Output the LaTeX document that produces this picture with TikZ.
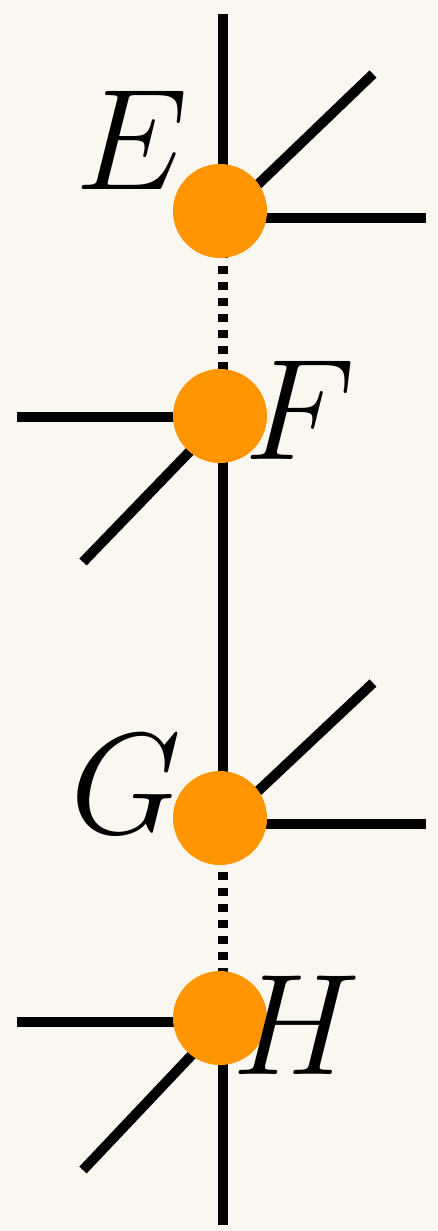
\RequirePackage{fix-cm}
\documentclass[tikz,border=0pt]{standalone}
\usetikzlibrary{positioning}
\definecolor{bgcream}{HTML}{FAF6F0}
\definecolor{dotorange}{HTML}{FF9500}
\tikzset{
  leg/.style  ={line width=5pt, draw=black},
  rung/.style ={leg, dash pattern=on 4pt off 4pt},
  vtx/.style  ={circle, fill=dotorange, minimum size=47pt, inner sep=0pt},
  tag/.style  ={inner sep=0pt, font=\fontsize{72}{72}\selectfont}
}
\begin{document}
\begin{tikzpicture}[x=0.5pt,y=-0.5pt]
  \fill[bgcream] (0,0) rectangle (438,1231);
  \useasboundingbox (0,0) rectangle (438,1231);

  % junctions on the spine
  \coordinate (e)   at (223,218);
  \coordinate (f)   at (223,417);
  \coordinate (mid) at (223,620);
  \coordinate (g)   at (223,824);
  \coordinate (h)   at (223,1022);
  % free ends
  \coordinate (etop)   at (223,14);
  \coordinate (eup)    at (373,74);
  \coordinate (eright) at (426,218);
  \coordinate (fleft)  at (17,417);
  \coordinate (fdown)  at (83,562);
  \coordinate (gup)    at (373,683);
  \coordinate (gright) at (426,824);
  \coordinate (hleft)  at (17,1022);
  \coordinate (hdown)  at (83,1170);
  \coordinate (hbot)   at (223,1225);

  \draw[leg] (etop)--(e); \draw[leg] (e)--(eup); \draw[leg] (e)--(eright);
  \draw[rung] (e)--(f);
  \draw[leg] (fleft)--(f); \draw[leg] (f)--(fdown); \draw[leg] (f)--(mid);
  \draw[leg] (mid)--(g); \draw[leg] (g)--(gup); \draw[leg] (g)--(gright);
  \draw[rung] (g)--(h);
  \draw[leg] (hleft)--(h); \draw[leg] (h)--(hdown); \draw[leg] (h)--(hbot);

  \node[vtx] (E) at (220,211) {};
  \node[vtx] (F) at (220,416) {};
  \node[vtx] (G) at (220,818) {};
  \node[vtx] (H) at (220,1018) {};

  \node[tag] (lE) at (132,140) {$E$};
  \node[tag] (lF) at (300,410) {$F$};
  \node[tag] (lG) at (126,784) {$G$};
  \node[tag] (lH) at (296,1025) {$H$};
\end{tikzpicture}
\end{document}
